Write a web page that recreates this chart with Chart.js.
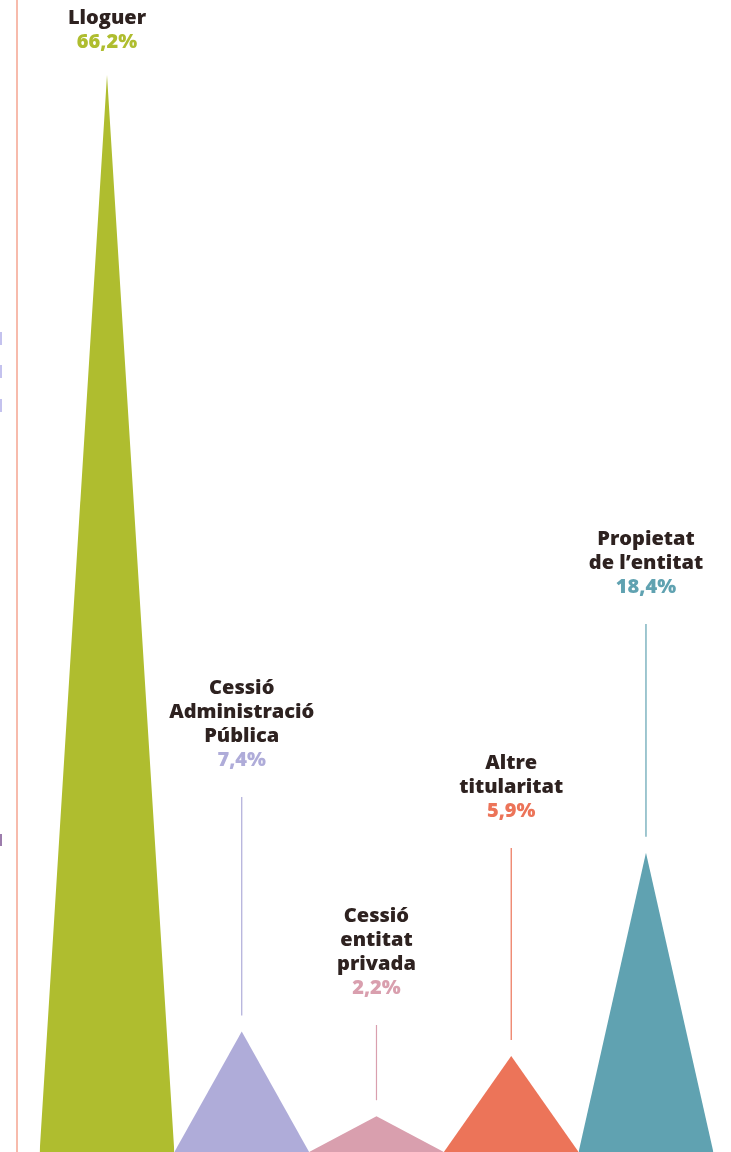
<!DOCTYPE html>
<html>
<head>
<meta charset="utf-8">
<script src="https://cdn.jsdelivr.net/npm/chart.js@4"></script>
<style>
  html, body { margin: 0; padding: 0; background: #fff; }
  #wrap { width: 731px; height: 1152px; }
</style>
</head>
<body>
<div id="wrap"><canvas id="peaks" width="731" height="1152"></canvas></div>
<script>
// data
const categories = [
  ['Lloguer'],
  ['Cessió', 'Administració', 'Pública'],
  ['Cessió', 'entitat', 'privada'],
  ['Altre', 'titularitat'],
  ['Propietat', 'de l’entitat']
];
const shares = [66.2, 7.4, 2.2, 5.9, 18.4];
const shareLabels = ['66,2%', '7,4%', '2,2%', '5,9%', '18,4%'];
const colours = ['#afbd2f', '#afacd9', '#d99fae', '#ec7459', '#60a2b1'];

// layout: y (px) of the percentage line for each label
const pctLineY = [42, 760, 988, 811, 587];
const HALF = 0.5; // half base width of each peak, in category units
const textColour = '#2e2220';

const ctx = document.getElementById('peaks').getContext('2d');

const datasets = shares.map((v, i) => ({
  label: categories[i].join(' '),
  data: [{ x: i - HALF, y: 0 }, { x: i, y: v }, { x: i + HALF, y: 0 }],
  backgroundColor: colours[i],
  borderColor: colours[i],
  borderWidth: 0,
  pointRadius: 0,
  tension: 0,
  fill: 'origin'
}));

const decor = {
  id: 'decor',
  beforeDraw(chart) {
    const c = chart.ctx;
    c.save();
    // page rule on the left
    c.strokeStyle = '#f4a490';
    c.lineWidth = 1.5;
    c.beginPath();
    c.moveTo(17, 0);
    c.lineTo(17, chart.height);
    c.stroke();
    // small marks cut off at the page edge
    c.fillStyle = '#c4c2ee';
    [332, 365, 399].forEach(y => c.fillRect(0, y, 2, 13));
    c.fillStyle = '#9c7cac';
    c.fillRect(0, 834, 2, 12);
    c.restore();
  },
  afterDatasetsDraw(chart) {
    const c = chart.ctx;
    const xs = chart.scales.x, ys = chart.scales.y;
    c.save();
    c.textAlign = 'center';
    c.textBaseline = 'middle';
    c.font = '800 20px "Open Sans", Inter, sans-serif';
    shares.forEach((v, i) => {
      const cx = xs.getPixelForValue(i);
      const apex = ys.getPixelForValue(v);
      const pctY = pctLineY[i];
      const lines = categories[i];
      c.fillStyle = textColour;
      lines.forEach((t, k) => {
        c.fillText(t, cx, pctY - 24 * (lines.length - k));
      });
      c.fillStyle = colours[i];
      c.fillText(shareLabels[i], cx, pctY);
      // connector from label down to the peak
      const y0 = pctY + 37, y1 = apex - 16;
      if (y1 - y0 > 10) {
        c.strokeStyle = colours[i];
        c.lineWidth = 1.2;
        c.beginPath();
        c.moveTo(cx, y0);
        c.lineTo(cx, y1);
        c.stroke();
      }
    });
    c.restore();
  }
};

const chart = new Chart(ctx, {
  type: 'line',
  data: { datasets },
  options: {
    responsive: false,
    animation: false,
    layout: { padding: 0 },
    plugins: { legend: { display: false }, tooltip: { enabled: false } },
    scales: {
      x: { type: 'linear', min: -0.794, max: 4.631, display: false },
      y: { min: 0, max: 70.81, display: false }
    }
  },
  plugins: [decor]
});
</script>
</body>
</html>
